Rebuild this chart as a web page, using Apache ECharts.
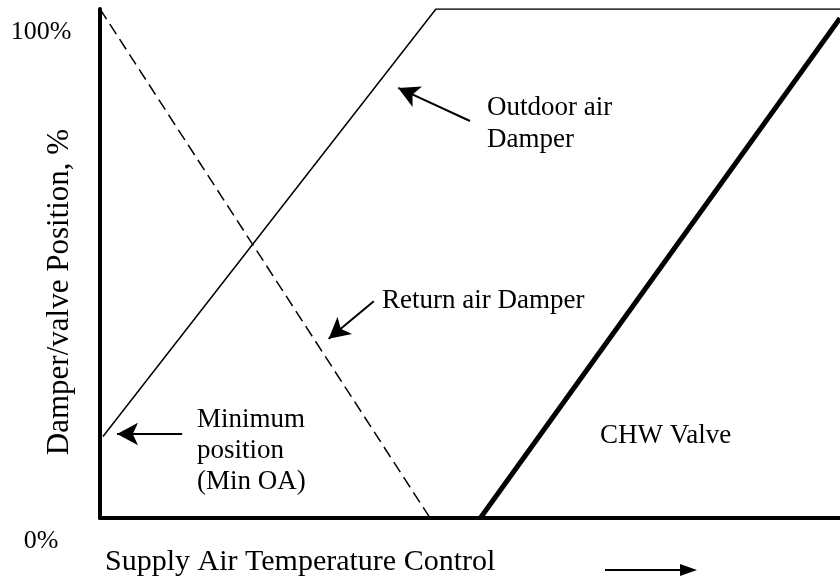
<!DOCTYPE html>
<html><head><meta charset="utf-8">
<script src="https://cdn.jsdelivr.net/npm/echarts@6/dist/echarts.min.js"></script>
<style>html,body{margin:0;padding:0;background:#fff}#c{width:840px;height:582px}</style>
</head><body><div id="c"></div>
<script>
// Data (x: supply air temperature control signal 0-100, y: position %)
var outdoorAir = [[0.4, 16], [45.4, 100], [100, 100]];
var returnAir = [[0, 100], [44.6, 0]];
var chwValve = [[51.4, 0], [100, 98.2]];
var yTickValues = [0, 100];
var yTickLabels = ['0%', '100%'];
// annotation arrows [from, to]
var arrowOutdoor = [[50.0, 78.0], [40.3, 84.5]];
var arrowReturn = [[37.0, 42.6], [30.9, 35.2]];
var arrowMin = [[11.1, 16.5], [2.3, 16.5]];

var chart = echarts.init(document.getElementById('c'));
var F = '"Liberation Serif","Times New Roman",serif';
function arrowLine(a){return [{coord:a[0]},{coord:a[1]}];}
chart.setOption({
  animation:false,
  grid:{left:100,right:0,top:9,bottom:64},
  xAxis:{type:'value',min:0,max:100,interval:100,
    axisLine:{show:true,onZero:false,lineStyle:{color:'#000',width:4}},
    axisTick:{show:false},axisLabel:{show:false},splitLine:{show:false}},
  yAxis:{type:'value',min:0,max:100,interval:100,
    axisLine:{show:true,onZero:false,lineStyle:{color:'#000',width:4}},
    axisTick:{show:false},splitLine:{show:false},axisLabel:{show:false}},
  series:[
    {type:'line',data:outdoorAir,symbol:'none',lineStyle:{color:'#000',width:1.5},
      markLine:{silent:true,symbol:['none','arrow'],symbolSize:[17,21],label:{show:false},
        lineStyle:{color:'#000',width:2,type:'solid'},
        data:[arrowLine(arrowOutdoor),arrowLine(arrowReturn),arrowLine(arrowMin)]}},
    {type:'line',data:returnAir,symbol:'none',lineStyle:{color:'#000',width:1.5,type:[12,6]}},
    {type:'line',data:chwValve,symbol:'none',lineStyle:{color:'#000',width:5}}
  ]
});
var g = [
  {type:'text',x:487,y:124,style:{text:'Outdoor air\nDamper',font:'27px '+F,fill:'#000',lineHeight:32,verticalAlign:'middle'}},
  {type:'text',x:382,y:301,style:{text:'Return air Damper',font:'27px '+F,fill:'#000',verticalAlign:'middle'}},
  {type:'text',x:197,y:451,style:{text:'Minimum\nposition\n(Min OA)',font:'27px '+F,fill:'#000',lineHeight:31,verticalAlign:'middle'}},
  {type:'text',x:600,y:436,style:{text:'CHW Valve',font:'27px '+F,fill:'#000',verticalAlign:'middle'}},
  {type:'text',x:105,y:562,style:{text:'Supply Air Temperature Control',font:'30px '+F,fill:'#000',verticalAlign:'middle'}},
  {type:'text',x:60,y:292,rotation:Math.PI/2,style:{text:'Damper/valve Position, %',font:'31px '+F,fill:'#000',align:'center',verticalAlign:'middle'}},
  {type:'line',shape:{x1:605,y1:570,x2:682,y2:570},style:{stroke:'#000',lineWidth:2}},
  {type:'polygon',shape:{points:[[697,570],[680,564],[680,576]]},style:{fill:'#000'}}
];
for (var i = 0; i < yTickValues.length; i++) {
  var py = chart.convertToPixel({yAxisIndex:0}, yTickValues[i]);
  g.push({type:'text',x:41,y:py+23,style:{text:yTickLabels[i],font:'26px '+F,fill:'#000',align:'center',verticalAlign:'middle'}});
}
chart.setOption({graphic:g});
</script></body></html>
